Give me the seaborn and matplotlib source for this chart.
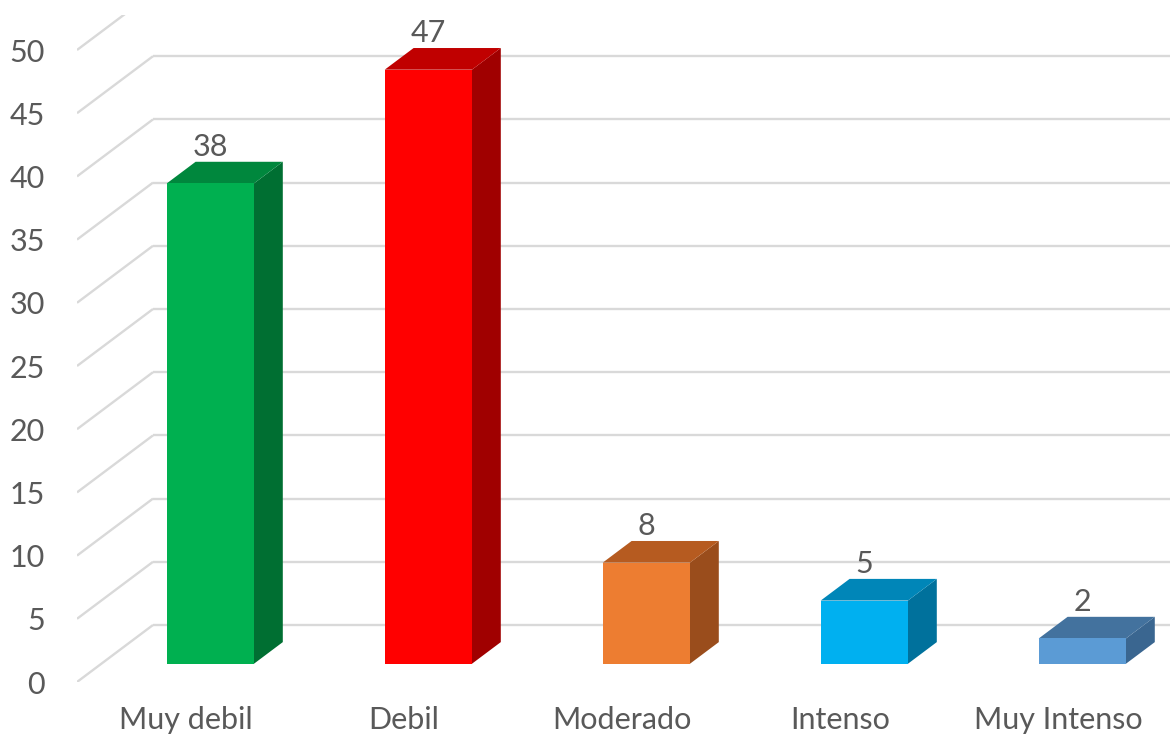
import matplotlib
matplotlib.use("Agg")
import matplotlib.pyplot as plt
import seaborn as sns

# Data
categories = ["Muy debil", "Debil", "Moderado", "Intenso", "Muy Intenso"]
values = [38, 47, 8, 5, 2]
y_ticks = list(range(0, 55, 5))

# Face colours: front, top, side
front_colors = ["#00B050", "#FF0000", "#ED7D31", "#00B0F0", "#5B9BD5"]
top_colors = ["#00873D", "#C00000", "#B65B20", "#0086B8", "#43729E"]
side_colors = ["#006F32", "#A00000", "#9A4D1C", "#00719C", "#3A6690"]

sns.set_theme(style="white")
plt.rcParams["font.family"] = ["Lato", "DejaVu Sans"]
text_color = "#595959"
grid_color = "#D9D9D9"
font_size = 22

W, H, DPI = 1170, 738, 100
fig = plt.figure(figsize=(W / DPI, H / DPI), dpi=DPI)

# Axes: left edge at the front of the left wall, bottom at the front floor edge,
# top edge where the plot box is cut off
left_px, bottom_px, top_px = 77, 682, 15
ax = fig.add_axes([left_px / W, (H - bottom_px) / H,
                   (W - left_px) / W, (bottom_px - top_px) / H])

cat_px = 218.0      # pixels per category
val_px = 12.64      # pixels per value unit
xlim = (-0.5, -0.5 + (W - left_px) / cat_px)
ylim = (0, (bottom_px - top_px) / val_px)

# Oblique depth direction (full depth of the plot box), in data units
DX = 76 / cat_px
DY = 57 / val_px
d_front, d_back = 0.32, 0.70
t = d_back - d_front

# Left wall diagonals and back wall gridlines
for v in y_ticks:
    ax.plot([-0.5, -0.5 + DX], [v, v + DY], color=grid_color, lw=1.7, zorder=1,
            solid_capstyle="butt")
    ax.plot([-0.5 + DX, xlim[1] + 1], [v + DY, v + DY], color=grid_color, lw=1.7,
            zorder=1, solid_capstyle="butt")

# Front faces
sns.barplot(x=categories, y=values, hue=categories, palette=front_colors,
            saturation=1, width=0.4, legend=False, ax=ax, zorder=3)

for i, patch in enumerate(ax.patches):
    patch.set_x(patch.get_x() + d_front * DX)
    patch.set_y(d_front * DY)
    patch.set_linewidth(0)
    xl = patch.get_x()
    xr = xl + patch.get_width()
    y0 = patch.get_y()
    y1 = y0 + patch.get_height()
    ox, oy = t * DX, t * DY
    # side face
    ax.fill([xr, xr, xr + ox, xr + ox], [y0, y1, y1 + oy, y0 + oy],
            color=side_colors[i], lw=0, zorder=2)
    # top face
    ax.fill([xl, xr, xr + ox, xl + ox], [y1, y1, y1 + oy, y1 + oy],
            color=top_colors[i], lw=0, zorder=2)
    # value label above the bar
    ax.annotate(str(values[i]), xy=(xl + patch.get_width() / 2, y1 + oy),
                xytext=(0, 11), textcoords="offset points", ha="center",
                va="center", fontsize=font_size, color=text_color,
                annotation_clip=False)

ax.set_xlim(*xlim)
ax.set_ylim(*ylim)
ax.set_yticks(y_ticks)
ax.set_yticklabels([str(v) for v in y_ticks])
ax.tick_params(axis="y", length=0, pad=23, labelsize=font_size, labelcolor=text_color)
ax.tick_params(axis="x", length=0, pad=17, labelsize=font_size, labelcolor=text_color)
ax.set_xlabel("")
ax.set_ylabel("")
for s in ax.spines.values():
    s.set_visible(False)
ax.patch.set_alpha(0)

fig.savefig("out.png", dpi=DPI, facecolor="white")
